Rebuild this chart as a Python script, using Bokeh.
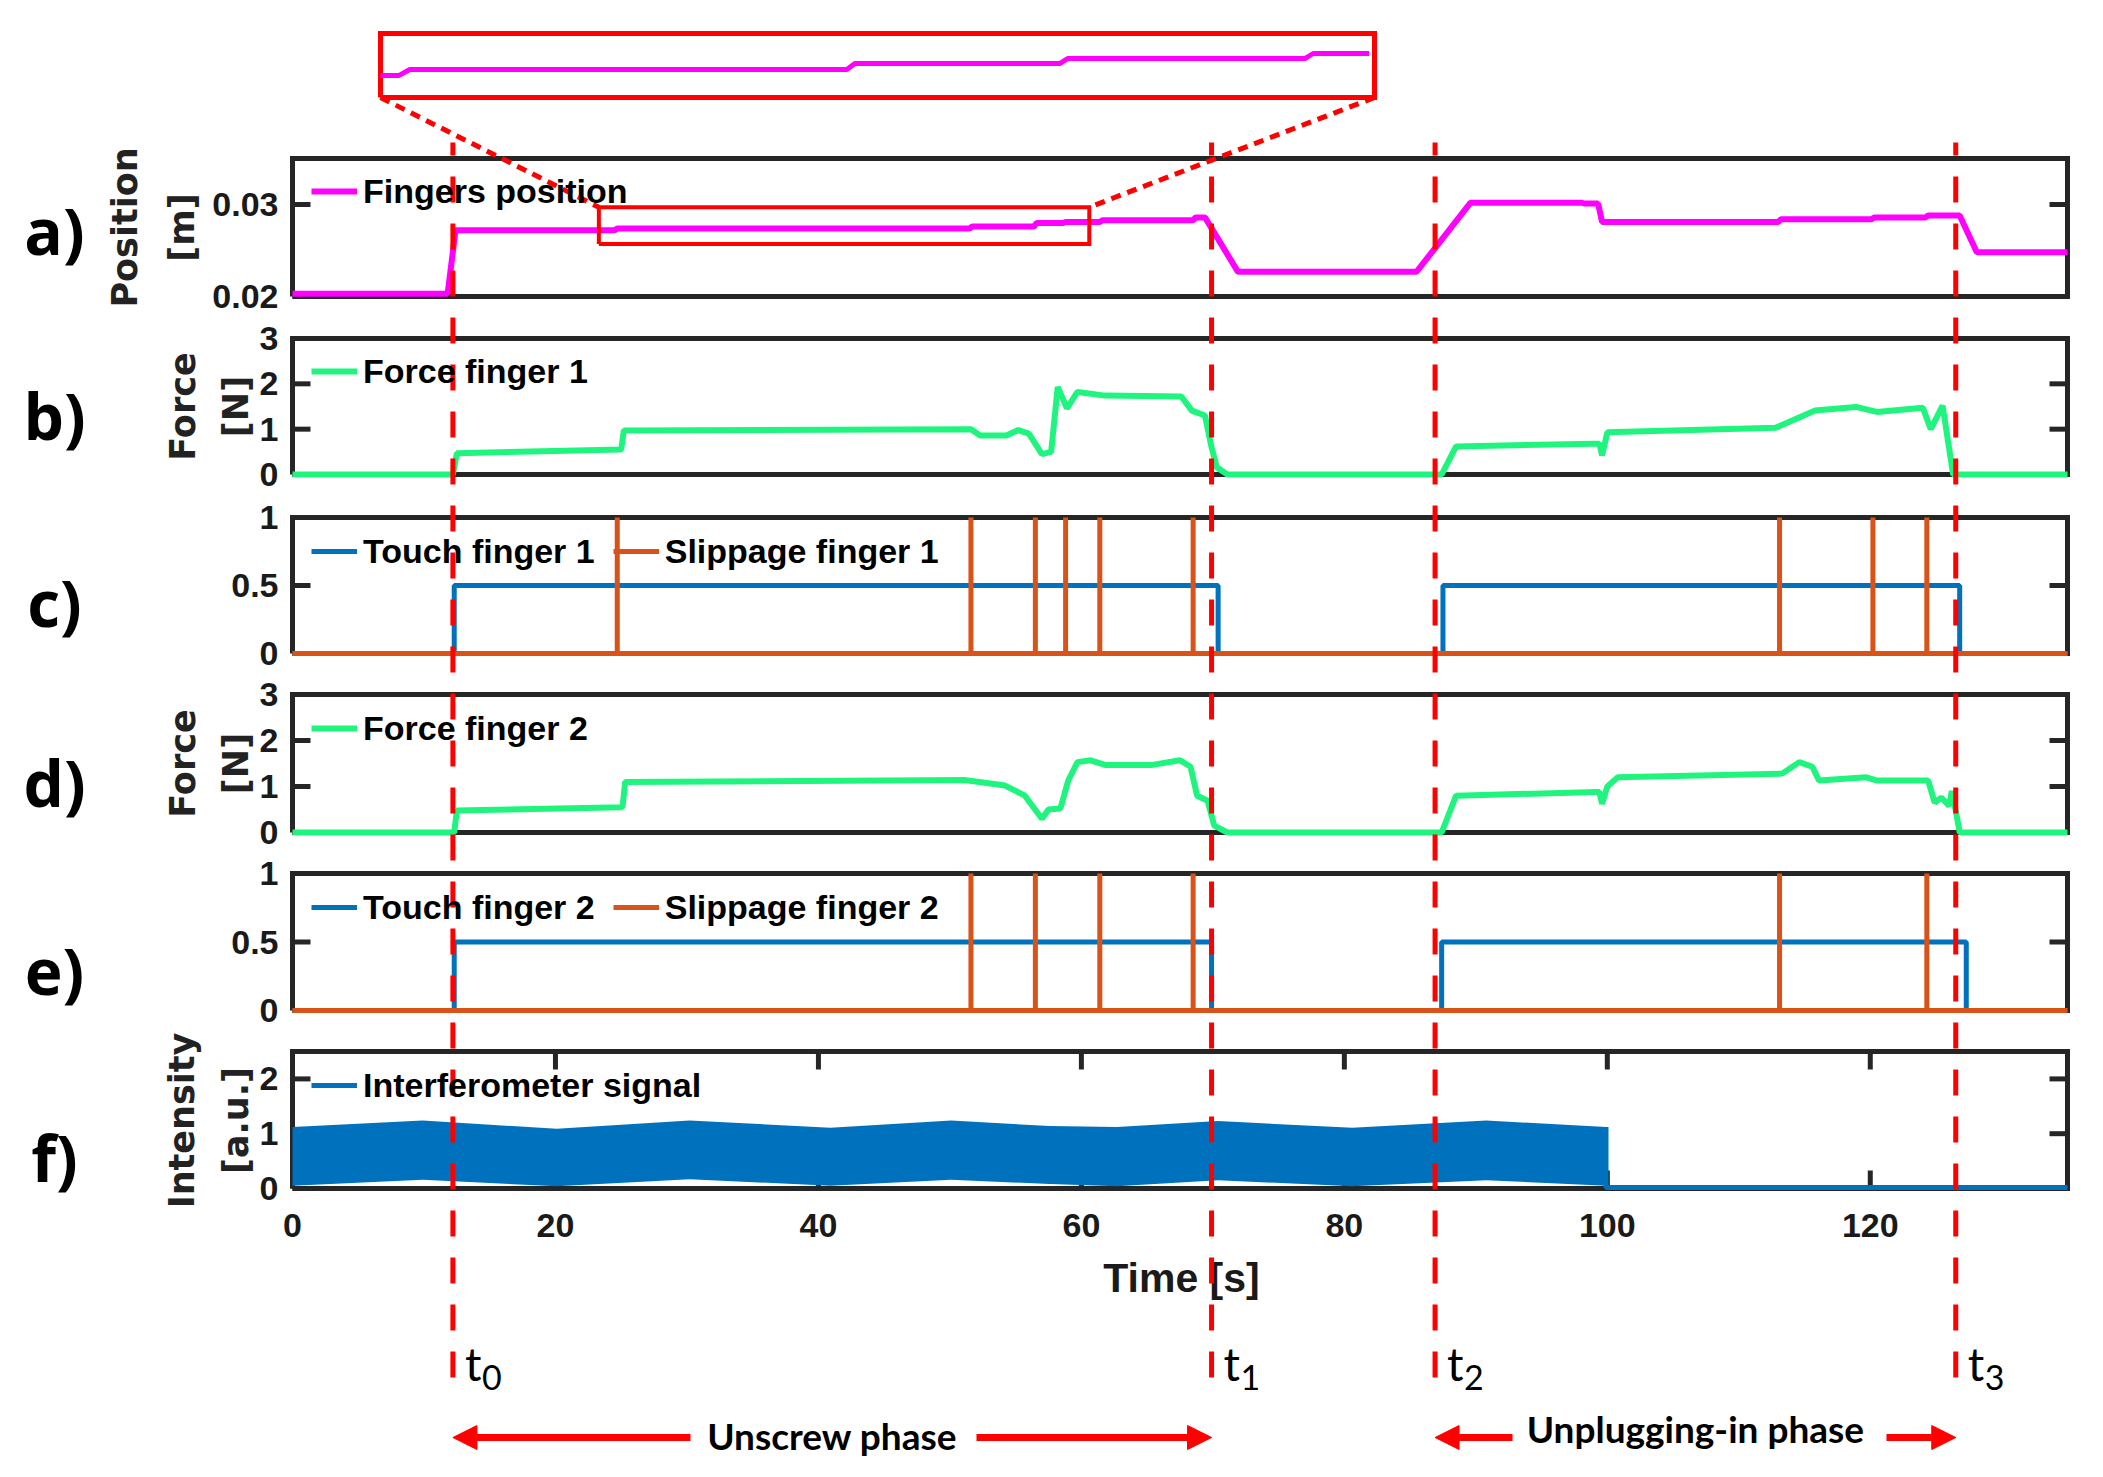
import math
from bokeh.plotting import figure
from bokeh.models import Range1d, Arrow, NormalHead, Legend, LegendItem
from bokeh.core.properties import value
from bokeh.embed import file_html
from bokeh.resources import INLINE

# ---------------- data ----------------
pos_t = [0, 11.8, 12.4, 24.5, 24.7, 51.5, 51.7, 56.4, 56.6, 58.6, 58.8, 61.4, 61.6, 68.5, 68.7,
         69.4, 71.9, 85.5, 89.6, 98.0, 98.3, 99.3, 99.6, 113.0, 113.2, 120.1, 120.3, 124.2,
         124.4, 126.8, 128.1, 135]
pos_v = [0.0203, 0.0203, 0.0272, 0.0272, 0.0274, 0.0274, 0.0276, 0.0276, 0.0280, 0.0280,
         0.0281, 0.0281, 0.0283, 0.0283, 0.0286, 0.0286, 0.0227, 0.0227, 0.0302, 0.0302,
         0.0301, 0.0301, 0.0281, 0.0281, 0.0284, 0.0284, 0.0286, 0.0286, 0.0288, 0.0288,
         0.0248, 0.0248]

inset_t = [23.3, 24.0, 24.4, 40.8, 41.1, 48.8, 49.1, 58.0, 58.3, 60.4]
inset_v = [0.02708, 0.02708, 0.02745, 0.02745, 0.02783, 0.02783, 0.02814, 0.02814,
           0.02845, 0.02845]

f1_t = [0, 12.2, 12.5, 25.0, 25.2, 51.6, 52.3, 54.3, 55.2, 56.0, 57.0, 57.7, 58.2, 58.9,
        59.7, 61.8, 67.6, 68.4, 69.4, 69.9, 70.3, 71.1, 87.4, 88.5, 99.0, 99.4, 99.6, 100.0,
        112.8, 115.8, 118.9, 120.5, 124.0, 124.6, 125.5, 126.3, 135]
f1_v = [0, 0, 0.47, 0.55, 0.97, 1.0, 0.86, 0.86, 0.98, 0.9, 0.45, 0.5, 1.93, 1.46, 1.82,
        1.74, 1.72, 1.41, 1.30, 0.6, 0.16, 0, 0, 0.62, 0.68, 0.68, 0.42, 0.93, 1.03, 1.41,
        1.49, 1.38, 1.47, 1.0, 1.52, 0, 0]

f2_t = [0, 12.3, 12.5, 25.1, 25.3, 51.1, 54.2, 55.7, 57.0, 57.5, 58.4, 59.0, 59.7, 60.7,
        61.8, 65.4, 67.5, 68.3, 68.8, 69.6, 70.1, 71.1, 87.4, 88.5, 99.2, 99.4, 99.6, 100.0,
        100.8, 113.3, 114.6, 115.6, 116.1, 119.7, 120.5, 124.4, 124.9, 125.4, 126.0, 126.2,
        126.5, 126.8, 135]
f2_v = [0, 0, 0.48, 0.55, 1.1, 1.14, 1.02, 0.80, 0.30, 0.5, 0.52, 1.13, 1.53, 1.57, 1.47,
        1.47, 1.57, 1.43, 0.8, 0.69, 0.15, 0, 0, 0.8, 0.88, 0.88, 0.62, 1.0, 1.2, 1.28, 1.53,
        1.43, 1.13, 1.2, 1.13, 1.13, 0.65, 0.76, 0.58, 0.9, 0.48, 0, 0]

touch1_t = [0, 12.3, 12.3, 70.4, 70.4, 87.5, 87.5, 126.8, 126.8, 135]
touch1_v = [0, 0, 0.5, 0.5, 0, 0, 0.5, 0.5, 0, 0]
slip1_times = [24.7, 51.6, 56.5, 58.8, 61.4, 68.5, 113.1, 120.2, 124.3]

touch2_t = [0, 12.3, 12.3, 69.9, 69.9, 87.4, 87.4, 127.3, 127.3, 135]
touch2_v = [0, 0, 0.5, 0.5, 0, 0, 0.5, 0.5, 0, 0]
slip2_times = [51.6, 56.5, 61.4, 68.5, 113.1, 124.3]

intf_t = [0, 9.9, 20.1, 30.2, 40.9, 50.1, 57.6, 62.7, 70.4, 80.6, 90.8, 99.9]
intf_hi = [1.12, 1.24, 1.09, 1.24, 1.11, 1.24, 1.14, 1.12, 1.23, 1.11, 1.24, 1.12]
intf_lo = [0.05, 0.16, 0.04, 0.17, 0.05, 0.16, 0.08, 0.04, 0.15, 0.04, 0.15, 0.05]
intf_off_t = [99.9, 99.9, 135]
intf_off_v = [1.12, 0.02, 0.02]

event_t = [12.2, 69.9, 86.9, 126.5]
event_sub = ["0", "1", "2", "3"]
x_ticks = [0, 20, 40, 60, 80, 100, 120]
x_tick_labels = ["0", "20", "40", "60", "80", "100", "120"]
zoom_box = dict(left=23.3, right=60.6, bottom=0.0257, top=0.0297)

# y limits / ticks of the six panels
ya_lim, ya_ticks, ya_labels = (0.02, 0.035), [0.02, 0.03], ["0.02", "0.03"]
yb_lim, yb_ticks, yb_labels = (0, 3), [0, 1, 2, 3], ["0", "1", "2", "3"]
yc_lim, yc_ticks, yc_labels = (0, 1), [0, 0.5, 1], ["0", "0.5", "1"]
yd_lim, yd_ticks, yd_labels = (0, 3), [0, 1, 2, 3], ["0", "1", "2", "3"]
ye_lim, ye_ticks, ye_labels = (0, 1), [0, 0.5, 1], ["0", "0.5", "1"]
yf_lim, yf_ticks, yf_labels = (0, 2.5), [0, 1, 2], ["0", "1", "2"]

# ---------------- styling / layout ----------------
RED = "#FF0000"
FRAME = "#262626"
MAGENTA = "#FF00FF"
GREEN = "#1FF57E"
BLUE = "#0072BD"
ORANGE = "#D95319"
TICK_FONT = "Liberation Sans"

W, H = 2087, 1461           # canvas size
TOP, BOTTOM = 0, H          # screenshot rows covered by the canvas
LEFT, RIGHT = 0, W
FRAME_L = 292               # screenshot x of t = 0
X_MAX = 135.0
PX_PER_S = 1775 / X_MAX
TICK_LEN = 18


def sx_to_t(sx):
    return (sx - FRAME_L) / PX_PER_S


p = figure(width=W, height=H, min_border=0, title=None,
           x_range=Range1d(sx_to_t(LEFT), sx_to_t(RIGHT)),
           y_range=Range1d(BOTTOM, TOP),            # screenshot pixel rows, downward
           x_axis_location=None, y_axis_location=None,
           output_backend="svg", toolbar_location=None, outline_line_color=None,
           background_fill_color="white", border_fill_color="white")
p.grid.visible = False
p.extra_x_ranges = {"px": Range1d(LEFT, RIGHT)}

# panel geometry: (name, limits, ticks, labels, box top, box bottom in screenshot px)
panels = [("a", ya_lim, ya_ticks, ya_labels, 158, 296),
          ("b", yb_lim, yb_ticks, yb_labels, 338, 474),
          ("c", yc_lim, yc_ticks, yc_labels, 517, 653),
          ("d", yd_lim, yd_ticks, yd_labels, 694, 832),
          ("e", ye_lim, ye_ticks, ye_labels, 873, 1010),
          ("f", yf_lim, yf_ticks, yf_labels, 1051, 1188)]
ppu = {}
for name, (lo, hi), ticks, labels, top, bot in panels:
    k = (bot - top) / (hi - lo)
    ppu[name] = k
    p.extra_y_ranges[name] = Range1d(lo - (BOTTOM - bot) / k, hi + (top - TOP) / k)

# inset ranges: zoom box data mapped onto the red inset rectangle
ix_k = (1374 - 380) / (zoom_box["right"] - zoom_box["left"])
iy_k = (97 - 33) / (zoom_box["top"] - zoom_box["bottom"])
p.extra_x_ranges["ix"] = Range1d(zoom_box["left"] - (380 - LEFT) / ix_k,
                                 zoom_box["right"] + (RIGHT - 1374) / ix_k)
p.extra_y_ranges["iy"] = Range1d(zoom_box["bottom"] - (BOTTOM - 97) / iy_k,
                                 zoom_box["top"] + (33 - TOP) / iy_k)

tick_dt = TICK_LEN / PX_PER_S
label_t = sx_to_t(FRAME_L - 14)
for name, (lo, hi), ticks, labels, top, bot in panels:
    # box
    p.line([0, X_MAX, X_MAX, 0, 0], [lo, lo, hi, hi, lo], y_range_name=name,
           line_color=FRAME, line_width=5, line_join="miter")
    # inner y ticks, left and right
    p.segment(x0=[0] * len(ticks), y0=ticks, x1=[tick_dt] * len(ticks), y1=ticks,
              y_range_name=name, line_color=FRAME, line_width=5)
    p.segment(x0=[X_MAX - tick_dt] * len(ticks), y0=ticks, x1=[X_MAX] * len(ticks), y1=ticks,
              y_range_name=name, line_color=FRAME, line_width=5)
    p.text(x=[label_t] * len(ticks), y=ticks, text=labels, y_range_name=name,
           text_font=value(TICK_FONT), text_font_style="bold", text_font_size="34px",
           text_color="#1a1a1a", text_align="right", text_baseline="middle")

# x ticks of panel f (inside, bottom and top) and tick labels
fk = TICK_LEN / ppu["f"]
n = len(x_ticks)
p.segment(x0=x_ticks, y0=[yf_lim[0]] * n, x1=x_ticks, y1=[yf_lim[0] + fk] * n,
          y_range_name="f", line_color=FRAME, line_width=5)
p.segment(x0=x_ticks, y0=[yf_lim[1]] * n, x1=x_ticks, y1=[yf_lim[1] - fk] * n,
          y_range_name="f", line_color=FRAME, line_width=5)
p.text(x=x_ticks, y=[1225] * n, text=x_tick_labels, text_font=value(TICK_FONT),
       text_font_style="bold", text_font_size="34px", text_color="#1a1a1a",
       text_align="center", text_baseline="middle")
p.text(x=[1181], y=[1277], text=["Time [s]"], x_range_name="px", text_font=value(TICK_FONT),
       text_font_style="bold", text_font_size="41px", text_color="#1a1a1a",
       text_align="center", text_baseline="middle")

# panel letters and y titles
p.text(x=[54] * 6, y=[230, 415, 602, 782, 970, 1157],
       text=["a)", "b)", "c)", "d)", "e)", "f)"], x_range_name="px",
       text_font=value("Open Sans"), text_font_style="bold", text_font_size="64px",
       text_color="black", text_align="center", text_baseline="middle")
p.text(x=[124, 181, 182, 235, 182, 235, 181, 235],
       y=[227, 227, 406, 406, 763, 763, 1120, 1120],
       text=["Position", "[m]", "Force", "[N]", "Force", "[N]", "Intensity", "[a.u.]"],
       x_range_name="px", angle=math.pi / 2,
       text_font=value("DejaVu Sans"), text_font_style="bold", text_font_size="35px",
       text_color="#222222", text_align="center", text_baseline="middle")

# ---------------- inset ----------------
zb = zoom_box
p.line([zb["left"], zb["right"], zb["right"], zb["left"], zb["left"]],
       [zb["bottom"], zb["bottom"], zb["top"], zb["top"], zb["bottom"]],
       x_range_name="ix", y_range_name="iy", line_color=RED, line_width=5, line_join="miter")
p.line(inset_t, inset_v, x_range_name="ix", y_range_name="iy", line_color=MAGENTA, line_width=5)

# ---------------- data ----------------
r_pos = p.line(pos_t, pos_v, y_range_name="a", line_color=MAGENTA, line_width=6)
p.line([zb["left"], zb["right"], zb["right"], zb["left"], zb["left"]],
       [zb["bottom"], zb["bottom"], zb["top"], zb["top"], zb["bottom"]],
       y_range_name="a", line_color=RED, line_width=4, line_join="miter")
# connectors from inset corners to zoom box corners (panel a coordinates)
ya_of_97 = ya_lim[0] + (296 - 97) / ppu["a"]
p.segment(x0=[sx_to_t(380), sx_to_t(1374)], y0=[ya_of_97, ya_of_97],
          x1=[zb["left"], zb["right"]], y1=[zb["top"], zb["top"]],
          y_range_name="a", line_color=RED, line_width=5, line_dash="10 7", level="overlay")

r_f1 = p.line(f1_t, f1_v, y_range_name="b", line_color=GREEN, line_width=6)

r_t1 = p.line(touch1_t, touch1_v, y_range_name="c", line_color=BLUE, line_width=5)
s1x, s1y = [0.0], [0.0]
for e in slip1_times:
    s1x += [e, e, e]
    s1y += [0.0, 1.0, 0.0]
s1x.append(X_MAX)
s1y.append(0.0)
r_s1 = p.line(s1x, s1y, y_range_name="c", line_color=ORANGE, line_width=5)

r_f2 = p.line(f2_t, f2_v, y_range_name="d", line_color=GREEN, line_width=6)

r_t2 = p.line(touch2_t, touch2_v, y_range_name="e", line_color=BLUE, line_width=5)
s2x, s2y = [0.0], [0.0]
for e in slip2_times:
    s2x += [e, e, e]
    s2y += [0.0, 1.0, 0.0]
s2x.append(X_MAX)
s2y.append(0.0)
r_s2 = p.line(s2x, s2y, y_range_name="e", line_color=ORANGE, line_width=5)

p.varea(x=intf_t, y1=intf_lo, y2=intf_hi, y_range_name="f", fill_color=BLUE)
r_if = p.line(intf_off_t, intf_off_v, y_range_name="f", line_color=BLUE, line_width=5)

# ---------------- legends ----------------
LEG_H = 40
legend_rows = [([("Fingers position", r_pos)], 191),
               ([("Force finger 1", r_f1)], 371),
               ([("Touch finger 1", r_t1), ("Slippage finger 1", r_s1)], 551),
               ([("Force finger 2", r_f2)], 728),
               ([("Touch finger 2", r_t2), ("Slippage finger 2", r_s2)], 907),
               ([("Interferometer signal", r_if)], 1085)]
for items, row_y in legend_rows:
    lg = Legend(items=[LegendItem(label=lab, renderers=[r]) for lab, r in items],
                location=(311 - LEFT, BOTTOM - (row_y + LEG_H / 2)),
                orientation="horizontal", padding=0, margin=0, spacing=18,
                glyph_width=46, glyph_height=LEG_H, label_height=LEG_H, label_standoff=6,
                border_line_color=None, background_fill_alpha=0,
                label_text_font=TICK_FONT, label_text_font_style="bold",
                label_text_font_size="34px", label_text_color="black")
    p.add_layout(lg)

# ---------------- event lines, labels, phase arrows ----------------
ne = len(event_t)
# drawn bottom-up so that the dash pattern ends with a full dash beside the t labels
p.segment(x0=event_t, y0=[1377] * ne, x1=event_t, y1=[142] * ne, line_color=RED,
          line_width=5, line_dash="26 21", level="overlay")
p.text(x=event_t, y=[1363] * ne, text=["t"] * ne, x_offset=12,
       text_font=value("Lato"), text_font_size="46px", text_color="black",
       text_align="left", text_baseline="alphabetic")
p.text(x=event_t, y=[1377] * ne, text=event_sub, x_offset=29,
       text_font=value("Lato"), text_font_size="34px", text_color="black",
       text_align="left", text_baseline="alphabetic")

phases = [("Unscrew phase", event_t[0], event_t[1], sx_to_t(690), sx_to_t(976), 1437, 1435),
          ("Unplugging-in phase", event_t[2], event_t[3], sx_to_t(1512), sx_to_t(1886), 1437, 1428)]
for txt, t_a, t_b, left_end, right_start, ay, ty in phases:
    for tail, tip in [(left_end, t_a), (right_start, t_b)]:
        p.add_layout(Arrow(end=NormalHead(size=24, fill_color=RED, line_color=RED, line_width=1),
                           x_start=tail, y_start=ay, x_end=tip, y_end=ay,
                           line_color=RED, line_width=7, level="overlay"))
    p.text(x=[(t_a + t_b) / 2], y=[ty], text=[txt], text_font=value("Lato"),
           text_font_style="bold", text_font_size="37px", text_color="black",
           text_align="center", text_baseline="middle")

open("out.html", "w").write(file_html(p, INLINE))
